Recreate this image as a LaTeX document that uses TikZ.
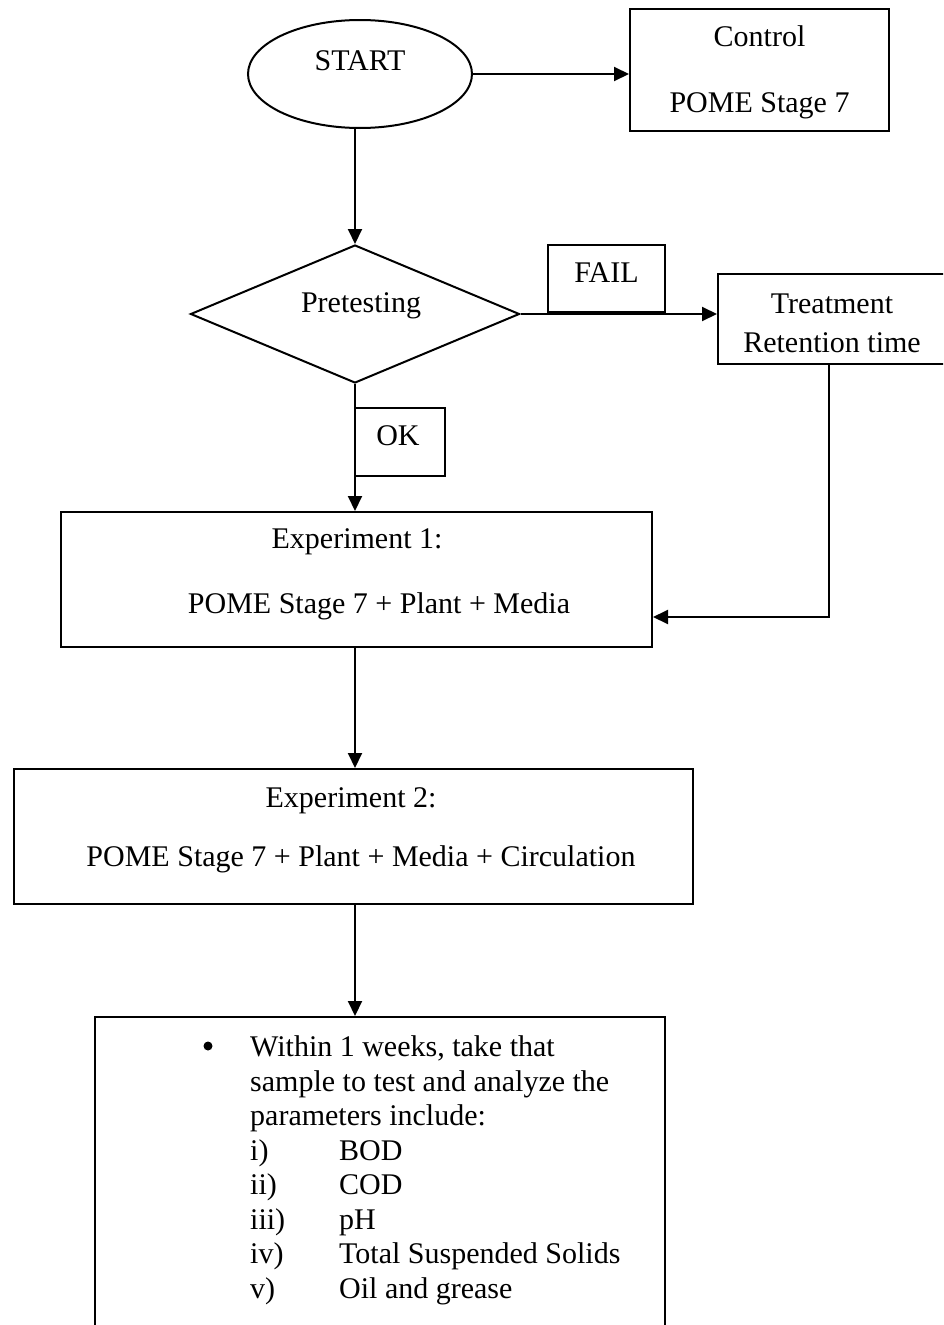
\documentclass[tikz,border=0pt]{standalone}
\usepackage{fontspec}
\setmainfont{Liberation Serif}
\usetikzlibrary{shapes.geometric,arrows.meta}
\begin{document}
\begin{tikzpicture}[x=1pt,y=-1pt,
  every node/.style={font=\fontsize{30}{36}\selectfont,inner sep=0pt},
  box/.style={draw,line width=2pt,rectangle},
  txt/.style={anchor=base},
  ltxt/.style={anchor=base west},
  conn/.style={line width=2pt},
  arr/.style={conn,-{Triangle[length=15pt,width=14pt]}}]
\useasboundingbox (0,0) rectangle (943,1325);
\clip (0,0) rectangle (943,1325);
% START
\node[draw,ellipse,line width=2pt,minimum width=224pt,minimum height=108pt] (start) at (360,74) {};
\node[txt] (starttxt) at (360,70) {START};
% Control
\node[box,minimum width=259pt,minimum height=122pt] (control) at (759.5,70) {};
\node[txt] (controlA) at (759.5,46) {Control};
\node[txt] (controlB) at (759.5,112) {POME Stage 7};
% Pretesting
\node[draw,diamond,line width=2pt,minimum width=329pt,minimum height=138pt] (pre) at (355,314) {};
\node[txt] (pretxt) at (361,312) {Pretesting};
% FAIL
\node[box,minimum width=117pt,minimum height=67pt] (fail) at (606.5,278.5) {};
\node[txt] (failtxt) at (606.5,282) {FAIL};
% Treatment
\node[box,minimum width=228pt,minimum height=90pt] (treat) at (832,319) {};
\node[txt] (treatA) at (832,313) {Treatment};
\node[txt] (treatB) at (832,352) {Retention time};
% OK
\node[box,minimum width=90pt,minimum height=68pt] (ok) at (400,442) {};
\node[txt] (oktxt) at (398,445) {OK};
% Experiment 1
\node[box,minimum width=591pt,minimum height=135pt] (exp1) at (356.5,579.5) {};
\node[txt] (exp1A) at (357,548) {Experiment 1:};
\node[txt] (exp1B) at (379,613) {POME Stage 7 + Plant + Media};
% Experiment 2
\node[box,minimum width=679pt,minimum height=135pt] (exp2) at (353.5,836.5) {};
\node[txt] (exp2A) at (351,807) {Experiment 2:};
\node[txt] (exp2B) at (361,866) {POME Stage 7 + Plant + Media + Circulation};
% Results
\node[box,anchor=north west,minimum width=570pt,minimum height=340pt] (res) at (94,1016) {};
\node[circle,fill,minimum size=9pt] (bullet) at (208,1046) {};
\node[ltxt] (r1) at (250,1056) {Within 1 weeks, take that};
\node[ltxt] (r2) at (250,1091) {sample to test and analyze the};
\node[ltxt] (r3) at (250,1125) {parameters include:};
\node[ltxt] (l1) at (250,1160) {i)};
\node[ltxt] (l2) at (250,1194) {ii)};
\node[ltxt] (l3) at (250,1229) {iii)};
\node[ltxt] (l4) at (250,1263) {iv)};
\node[ltxt] (l5) at (250,1298) {v)};
\node[ltxt] (p1) at (339,1160) {BOD};
\node[ltxt] (p2) at (339,1194) {COD};
\node[ltxt] (p3) at (339,1229) {pH};
\node[ltxt] (p4) at (339,1263) {Total Suspended Solids};
\node[ltxt] (p5) at (339,1298) {Oil and grease};
% connectors
\coordinate (sdown) at (355,128);
\coordinate (fb) at (829,617);
\draw[arr] (start.east) -- (control.west |- start.east);
\draw[arr] (sdown) -- (pre.north);
\draw[arr] (pre.east) -- (treat.west |- pre.east);
\draw[arr] (pre.south) -- (pre.south |- exp1.north);
\draw[arr] (treat.south -| fb) -- (fb) -- (exp1.east |- fb);
\draw[arr] (exp1.south -| sdown) -- (exp2.north -| sdown);
\draw[arr] (exp2.south -| sdown) -- (res.north -| sdown);
\end{tikzpicture}
\end{document}
